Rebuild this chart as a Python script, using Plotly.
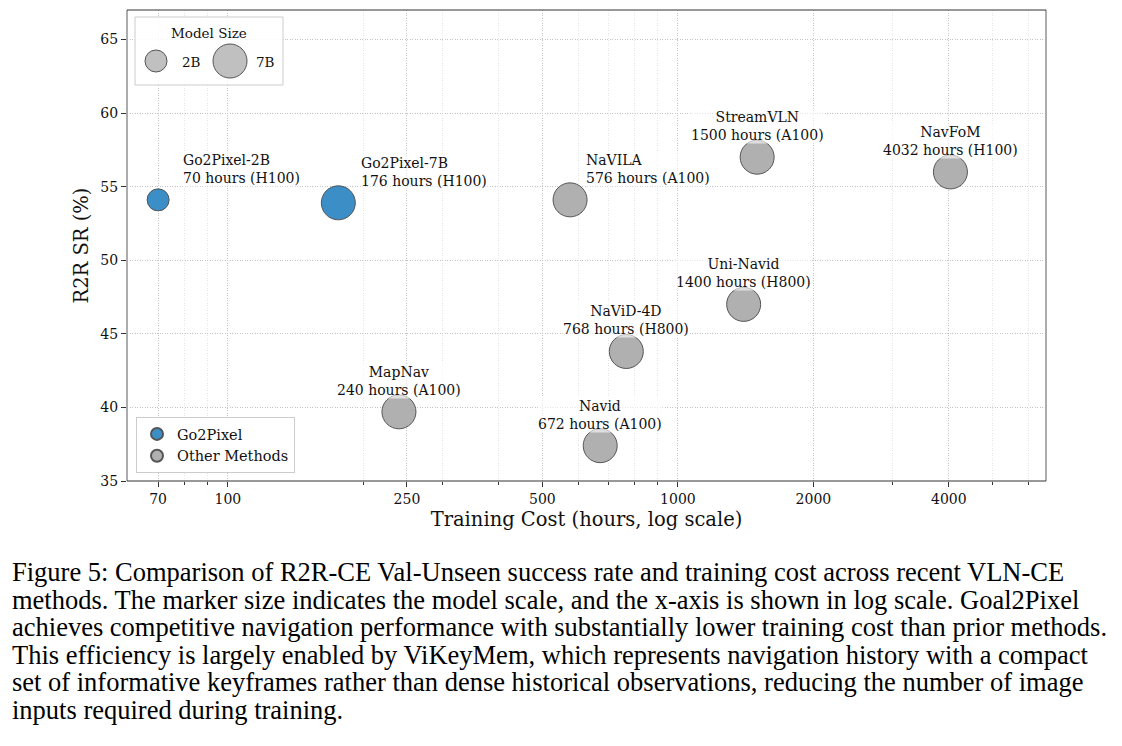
import math
import plotly.graph_objects as go

# ---------------- data ----------------
methods = ["Go2Pixel-2B", "Go2Pixel-7B", "NaVILA", "StreamVLN", "NavFoM",
           "Uni-Navid", "NaViD-4D", "MapNav", "Navid"]
hours = [70, 176, 576, 1500, 4032, 1400, 768, 240, 672]
gpus = ["H100", "H100", "A100", "A100", "H100", "H800", "H800", "A100", "A100"]
sr = [54.1, 53.9, 54.1, 57.0, 56.0, 47.0, 43.8, 39.7, 37.4]
model_size = ["2B", "7B", "7B", "7B", "7B", "7B", "7B", "7B", "7B"]
group = ["Go2Pixel", "Go2Pixel", "Other Methods", "Other Methods", "Other Methods",
         "Other Methods", "Other Methods", "Other Methods", "Other Methods"]

x_ticks = [70, 100, 250, 500, 1000, 2000, 4000]
x_minor = [80, 90, 200, 300, 400, 600, 700, 800, 900, 3000, 5000, 6000]
y_ticks = [35, 40, 45, 50, 55, 60, 65]

caption_lines = [
    "Figure 5: Comparison of R2R-CE Val-Unseen success rate and training cost across recent VLN-CE",
    "methods. The marker size indicates the model scale, and the x-axis is shown in log scale. Goal2Pixel",
    "achieves competitive navigation performance with substantially lower training cost than prior methods.",
    "This efficiency is largely enabled by ViKeyMem, which represents navigation history with a compact",
    "set of informative keyframes rather than dense historical observations, reducing the number of image",
    "inputs required during training.",
]

# ---------------- style ----------------
SERIF = "DejaVu Serif"
OFF = 8  # page body margin in the browser
W, H = 1122 - OFF, 746 - OFF
PL, PR, PT, PB = 127 - OFF, 1046 - OFF, 10 - OFF, 481 - OFF  # plot area in figure pixels
size_px = {"2B": 22, "7B": 34}
colors = {"Go2Pixel": "#3b8ec6", "Other Methods": "#b0b0b0"}
# label placement: (xanchor, xshift)
label_place = {"Go2Pixel-2B": ("left", 24), "Go2Pixel-7B": ("left", 22), "NaVILA": ("left", 15)}


def px_to_paper_x(px):
    return (px - OFF - PL) / (PR - PL)


def px_to_paper_y(py):
    return (PB - (py - OFF)) / (PB - PT)


fig = go.Figure()
for g in ["Go2Pixel", "Other Methods"]:
    idx = [i for i in range(len(methods)) if group[i] == g]
    fig.add_trace(go.Scatter(
        x=[hours[i] for i in idx], y=[sr[i] for i in idx], mode="markers", name=g,
        marker=dict(size=[size_px[model_size[i]] for i in idx], color=colors[g],
                    line=dict(color="#555555", width=1), opacity=1),
        hoverinfo="skip",
    ))

annotations = []
for i, m in enumerate(methods):
    xa, xs = label_place.get(m, ("center", 0))
    annotations.append(dict(
        x=math.log10(hours[i]), y=sr[i], xref="x", yref="y",
        text=f"{m}<br>{hours[i]} hours ({gpus[i]})", showarrow=False,
        xanchor=xa, yanchor="bottom", xshift=xs, yshift=13,
        align="center" if xa == "center" else "left",
        font=dict(family=SERIF, size=14, color="#111111"),
        bgcolor="rgba(255,255,255,0.6)", borderpad=0,
    ))

# Model Size legend (drawn)
shapes = []
shapes.append(dict(type="rect", xref="paper", yref="paper",
                   x0=px_to_paper_x(135), x1=px_to_paper_x(283),
                   y0=px_to_paper_y(85), y1=px_to_paper_y(17),
                   line=dict(color="#cccccc", width=1), fillcolor="rgba(255,255,255,0.85)",
                   layer="above"))
for lab, cx, tx in [("2B", 156, 180), ("7B", 230, 254)]:
    r = size_px[lab] / 2
    shapes.append(dict(type="circle", xref="paper", yref="paper",
                       xsizemode="pixel", ysizemode="pixel",
                       xanchor=px_to_paper_x(cx), yanchor=px_to_paper_y(61),
                       x0=-r, x1=r, y0=-r, y1=r,
                       fillcolor="#c0c0c0", line=dict(color="#555555", width=1),
                       layer="above"))
    annotations.append(dict(x=px_to_paper_x(tx), y=px_to_paper_y(62), xref="paper", yref="paper",
                            text=lab, showarrow=False, xanchor="left", yanchor="middle",
                            font=dict(family=SERIF, size=13.5, color="#111111")))
annotations.append(dict(x=px_to_paper_x(209), y=px_to_paper_y(33), xref="paper", yref="paper",
                        text="Model Size", showarrow=False, xanchor="center", yanchor="middle",
                        font=dict(family=SERIF, size=13.5, color="#111111")))

# spines
shapes += [
    dict(type="line", xref="paper", yref="paper", x0=0, x1=0, y0=0, y1=1,
         line=dict(color="#999999", width=1.6), layer="above"),
    dict(type="line", xref="paper", yref="paper", x0=1, x1=1, y0=0, y1=1,
         line=dict(color="#999999", width=1.6), layer="above"),
    dict(type="line", xref="paper", yref="paper", x0=0, x1=1, y0=1, y1=1,
         line=dict(color="#333333", width=1), layer="above"),
    dict(type="line", xref="paper", yref="paper", x0=0, x1=1, y0=0, y1=0,
         line=dict(color="#333333", width=1), layer="above"),
]

# caption
cap_y = [572, 600, 627, 655, 682, 710]
for line, yy in zip(caption_lines, cap_y):
    annotations.append(dict(x=px_to_paper_x(10), y=px_to_paper_y(yy), xref="paper", yref="paper",
                            text=line, showarrow=False, xanchor="left", yanchor="middle",
                            font=dict(family="Liberation Serif", size=26.5, color="#000000")))

GRID_DASH = "1px,1.5px"
fig.update_layout(
    width=W, height=H,
    margin=dict(l=PL, r=W - PR, t=PT, b=H - PB, pad=0),
    paper_bgcolor="white", plot_bgcolor="white",
    font=dict(family=SERIF, size=14, color="#111111"),
    showlegend=True,
    legend=dict(x=px_to_paper_x(136), y=px_to_paper_y(473), xanchor="left", yanchor="bottom",
                bgcolor="rgba(255,255,255,0.85)", bordercolor="#cccccc", borderwidth=1,
                itemsizing="constant", font=dict(family=SERIF, size=14.5, color="#111111"),
                tracegroupgap=0),
    annotations=annotations,
    shapes=shapes,
    xaxis=dict(
        type="log", range=[math.log10(59.7), math.log10(6575)],
        tickmode="array", tickvals=x_ticks, ticktext=[str(v) for v in x_ticks],
        ticks="outside", ticklen=5, tickcolor="#333333", tickwidth=1,
        showgrid=True, gridcolor="#c4c4c4", griddash=GRID_DASH, gridwidth=0.8,
        minor=dict(tickmode="array", tickvals=x_minor, ticks="outside", ticklen=3,
                   tickcolor="#333333", showgrid=True, gridcolor="#e6e6e6", griddash=GRID_DASH,
                   gridwidth=0.6),
        showline=False, zeroline=False,
        tickfont=dict(family=SERIF, size=14, color="#111111"),
        title=dict(text="Training Cost (hours, log scale)", standoff=6,
                   font=dict(family=SERIF, size=19.5, color="#111111")),
    ),
    yaxis=dict(
        range=[35, 67], tickmode="array", tickvals=y_ticks,
        ticks="outside", ticklen=5, tickcolor="#333333", tickwidth=1,
        showgrid=True, gridcolor="#c4c4c4", griddash=GRID_DASH, gridwidth=0.8,
        showline=False, zeroline=False,
        tickfont=dict(family=SERIF, size=14, color="#111111"),
        title=dict(text="R2R SR (%)", standoff=6,
                   font=dict(family=SERIF, size=19.5, color="#111111")),
    ),
)

fig.write_html("out.html")
